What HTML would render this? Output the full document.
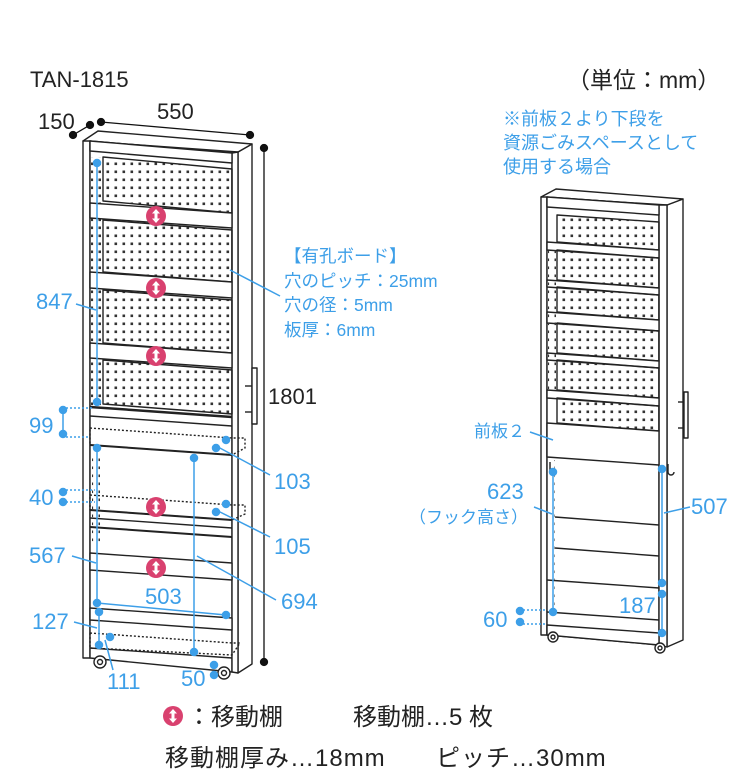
<!DOCTYPE html>
<html><head><meta charset="utf-8"><style>
html,body{margin:0;padding:0;background:#fff;}
svg{display:block;}
text{font-family:"Liberation Sans","Noto Sans CJK JP",sans-serif;}
.b{fill:#3d9fe8;}
.k{fill:#222;}
</style></head><body>
<svg width="750" height="781" viewBox="0 0 750 781" xmlns="http://www.w3.org/2000/svg">
<defs>
<pattern id="peg" width="8" height="8" patternUnits="userSpaceOnUse"><rect x="2.5" y="2.5" width="2.6" height="2.6" fill="#333"/></pattern>
<g id="ic"><circle r="10" fill="#d9416f"/><path d="M0,-7 L4,-2.5 L1.5,-2.5 L1.5,2.5 L4,2.5 L0,7 L-4,2.5 L-1.5,2.5 L-1.5,-2.5 L-4,-2.5 Z" fill="#fff"/></g>
</defs>

<!-- ============ LEFT CABINET ============ -->
<g stroke="#222" stroke-width="1.4" fill="#fff" stroke-linejoin="round">
<polygon points="238,152 252,144 252,664 238,673"/>
<polygon points="83,141 98,131 252,144 238,152"/>
<polygon points="83,141 90,141 90,658 83,658"/>
<polygon points="90,141 232,153 232,672 90,658"/>
<polygon points="232,153 238,152 238,673 232,672"/>
<polygon points="90,141 232,153 232,163 90,151"/>
<polygon points="103,157 232,169 232,213 103,201" fill="url(#peg)"/>
<polygon points="103,220 232,230 232,282 103,272" fill="url(#peg)"/>
<polygon points="103,290 232,300 232,353 103,343" fill="url(#peg)"/>
<polygon points="103,360 232,370 232,414 103,404" fill="url(#peg)"/>
<rect x="91" y="157" width="10" height="250" fill="url(#peg)" stroke="none"/>
<polygon points="90,203 232,213 232,228 90,218"/>
<polygon points="90,272 232,282 232,298 90,288"/>
<polygon points="90,343 232,353 232,368 90,358"/>
<polyline points="90,407 232,417" fill="none" stroke-width="2.5"/>
<polyline points="90,416 232,426" fill="none"/>
<polygon points="90,428 232,438 245,438 245,448 232,455 90,445" fill="none" stroke-dasharray="2,2"/>
<polyline points="90,445 232,455" fill="none" stroke-width="2"/>
<polygon points="90,495 232,505 245,505 245,514 232,520 90,510" fill="none" stroke-dasharray="2,2"/>
<polyline points="90,510 232,520" fill="none" stroke-width="2"/>
<polyline points="90,518 232,528" fill="none"/>
<polyline points="90,527 232,537" fill="none" stroke-width="2"/>
<polygon points="90,553 232,563 232,580 90,570"/>
<rect x="92" y="455" width="8" height="90" fill="url(#peg)" stroke="none"/>
<polygon points="90,608 232,618 232,630 90,620"/>
<polygon points="90,633 232,643 240,643 232,655 90,648" fill="none" stroke-dasharray="2,2"/>
<polyline points="90,648 232,658" fill="none"/>
<circle cx="100" cy="662" r="6"/><circle cx="100" cy="662" r="2.5"/>
<circle cx="224" cy="673" r="6"/><circle cx="224" cy="673" r="2.5"/>
<rect x="252" y="368" width="5" height="56"/>
<line x1="245" y1="386" x2="252" y2="386"/><line x1="245" y1="412" x2="252" y2="412"/>
</g>
<g stroke="#111" stroke-width="1.3" fill="#111">
<line x1="73" y1="135" x2="90" y2="125"/><circle cx="73" cy="135" r="3.5"/><circle cx="90" cy="125" r="3.5"/>
<line x1="101" y1="122" x2="250" y2="135"/><circle cx="101" cy="122" r="3.5"/><circle cx="250" cy="135" r="3.5"/>
<line x1="264" y1="148" x2="264" y2="662"/><circle cx="264" cy="148" r="3.5"/><circle cx="264" cy="662" r="3.5"/>
</g>
<use href="#ic" x="156" y="216"/><use href="#ic" x="156" y="288"/><use href="#ic" x="156" y="356"/>
<use href="#ic" x="156" y="507"/><use href="#ic" x="156" y="568"/>

<g stroke="#3d9fe8" stroke-width="1.5" fill="#3d9fe8">
<line x1="97" y1="163" x2="97" y2="402"/><circle cx="97" cy="163" r="3.5"/><circle cx="97" cy="402" r="3.5"/>
<line x1="76" y1="304" x2="96" y2="310"/>
<line x1="63" y1="410" x2="63" y2="434"/><circle cx="63" cy="410" r="3.5"/><circle cx="63" cy="434" r="3.5"/>
<line x1="66" y1="408" x2="92" y2="408" stroke-dasharray="2,2"/><line x1="66" y1="437" x2="90" y2="437" stroke-dasharray="2,2"/>
<line x1="97" y1="448" x2="97" y2="603"/><circle cx="97" cy="448" r="3.5"/><circle cx="97" cy="603" r="3.5"/>
<line x1="72" y1="556" x2="96" y2="563"/>
<circle cx="63" cy="492" r="3.5"/><circle cx="63" cy="502" r="3.5"/>
<line x1="66" y1="490" x2="95" y2="490" stroke-dasharray="2,2"/><line x1="66" y1="502" x2="95" y2="502" stroke-dasharray="2,2"/>
<circle cx="226" cy="440" r="3.5"/><circle cx="216" cy="448" r="3.5"/><line x1="218" y1="447" x2="270" y2="475"/>
<circle cx="226" cy="504" r="3.5"/><circle cx="216" cy="512" r="3.5"/><line x1="218" y1="511" x2="270" y2="537"/>
<line x1="194" y1="458" x2="194" y2="652"/><circle cx="194" cy="458" r="3.5"/><circle cx="194" cy="652" r="3.5"/>
<line x1="197" y1="556" x2="276" y2="600"/>
<line x1="97" y1="603" x2="226" y2="615"/><circle cx="226" cy="615" r="3.5"/>
<line x1="99" y1="612" x2="99" y2="645"/><circle cx="99" cy="612" r="3.5"/><circle cx="99" cy="645" r="3.5"/>
<line x1="74" y1="622" x2="97" y2="628"/>
<circle cx="110" cy="637" r="3.5"/><line x1="105" y1="640" x2="113" y2="670"/>
<circle cx="214" cy="665" r="3.5"/><circle cx="214" cy="675" r="3.5"/>
</g>
<line x1="230" y1="270" x2="280" y2="296" stroke="#3d9fe8" stroke-width="1.5"/>

<!-- ============ RIGHT CABINET ============ -->
<g stroke="#222" stroke-width="1.4" fill="#fff" stroke-linejoin="round">
<polygon points="667,205 683,199 683,640 667,647"/>
<polygon points="541,197 556,189 683,199 667,205"/>
<polygon points="541,197 547,197 547,635 541,635"/>
<polygon points="547,197 659,205 659,645 547,635"/>
<polygon points="659,205 667,205 667,647 659,645"/>
<polygon points="547,197 659,205 659,215 547,207"/>
<polygon points="557,215 659,222 659,250 557,242" fill="url(#peg)"/>
<polygon points="547,242 659,250 659,258 547,250"/>
<polygon points="557,250 659,258 659,288 557,280" fill="url(#peg)"/>
<polygon points="547,280 659,288 659,295 547,287"/>
<polygon points="557,287 659,295 659,320 557,312" fill="url(#peg)"/>
<polygon points="547,312 659,320 659,331 547,323"/>
<polygon points="557,323 659,331 659,361 557,353" fill="url(#peg)"/>
<polygon points="547,353 659,361 659,368 547,360"/>
<polygon points="557,360 659,368 659,398 557,390" fill="url(#peg)"/>
<polygon points="547,390 659,398 659,406 547,398"/>
<polygon points="557,398 659,406 659,431 557,423" fill="url(#peg)"/>
<polygon points="547,423 659,431 659,465 547,457"/>
<rect x="548" y="250" width="8" height="140" fill="url(#peg)" stroke="none"/>
<rect x="550" y="460" width="5" height="150" fill="url(#peg)" stroke="none"/>
<polyline points="555,517 659,525" fill="none"/>
<polyline points="555,548 659,556" fill="none"/>
<polyline points="547,580 659,588" fill="none"/>
<polyline points="547,612 659,620" fill="none"/>
<polygon points="547,625 659,633 659,645 547,635"/>
<circle cx="553" cy="637" r="5"/><circle cx="553" cy="637" r="2"/>
<circle cx="660" cy="648" r="5"/><circle cx="660" cy="648" r="2"/>
<rect x="684" y="392" width="4" height="46"/>
<line x1="678" y1="402" x2="684" y2="402"/><line x1="678" y1="428" x2="684" y2="428"/>
<path d="M550,462 v10 a3,3 0 0 0 6,0" fill="none"/>
<path d="M668,464 v8 a3,3 0 0 0 6,0" fill="none"/>
</g>
<g stroke="#3d9fe8" stroke-width="1.5" fill="#3d9fe8">
<line x1="530" y1="432" x2="553" y2="440"/>
<line x1="553" y1="472" x2="553" y2="612"/><circle cx="553" cy="472" r="3.5"/><circle cx="553" cy="612" r="3.5"/>
<line x1="534" y1="507" x2="552" y2="514"/>
<line x1="662" y1="469" x2="662" y2="583"/><circle cx="662" cy="469" r="3.5"/><circle cx="662" cy="583" r="3.5"/>
<line x1="664" y1="513" x2="690" y2="507"/>
<line x1="662" y1="594" x2="662" y2="633"/><circle cx="662" cy="594" r="3.5"/><circle cx="662" cy="633" r="3.5"/>
<circle cx="520" cy="611" r="3.5"/><circle cx="520" cy="622" r="3.5"/>
<line x1="523" y1="610" x2="547" y2="610" stroke-dasharray="2,2"/><line x1="523" y1="624" x2="547" y2="624" stroke-dasharray="2,2"/>
</g>

<!-- ============ TEXT ============ -->
<text x="30" y="87" font-size="22" class="k">TAN-1815</text>
<text x="567" y="88" font-size="23" class="k">（単位：mm）</text>
<text x="38" y="129" font-size="22" class="k">150</text>
<text x="157" y="119" font-size="22" class="k">550</text>
<text x="268" y="404" font-size="22" class="k">1801</text>
<text x="503" y="125" font-size="18" class="b">※前板２より下段を</text>
<text x="503" y="149" font-size="18" class="b">資源ごみスペースとして</text>
<text x="503" y="173" font-size="18" class="b">使用する場合</text>
<text x="284" y="262" font-size="17.5" class="b">【有孔ボード】</text>
<text x="284" y="287" font-size="17.5" class="b">穴のピッチ：25mm</text>
<text x="284" y="311" font-size="17.5" class="b">穴の径：5mm</text>
<text x="284" y="336" font-size="17.5" class="b">板厚：6mm</text>
<g font-size="22" class="b">
<text x="36" y="309">847</text>
<text x="29" y="433">99</text>
<text x="29" y="505">40</text>
<text x="29" y="563">567</text>
<text x="32" y="629">127</text>
<text x="274" y="489">103</text>
<text x="274" y="554">105</text>
<text x="145" y="604">503</text>
<text x="281" y="609">694</text>
<text x="107" y="689">111</text>
<text x="181" y="686">50</text>
<text x="487" y="499">623</text>
<text x="691" y="514">507</text>
<text x="619" y="613">187</text>
<text x="483" y="627">60</text>
</g>
<text x="474" y="437" font-size="17" class="b">前板２</text>
<text x="409" y="523" font-size="17" class="b">（フック高さ）</text>
<use href="#ic" x="173" y="716"/>
<text x="187" y="725" font-size="24" class="k">：移動棚</text>
<text x="353" y="725" font-size="24" class="k">移動棚…5 枚</text>
<text x="165" y="766" font-size="24" letter-spacing="1" class="k">移動棚厚み…18mm</text>
<text x="436" y="766" font-size="24" letter-spacing="1" class="k">ピッチ…30mm</text>
</svg>
</body></html>
